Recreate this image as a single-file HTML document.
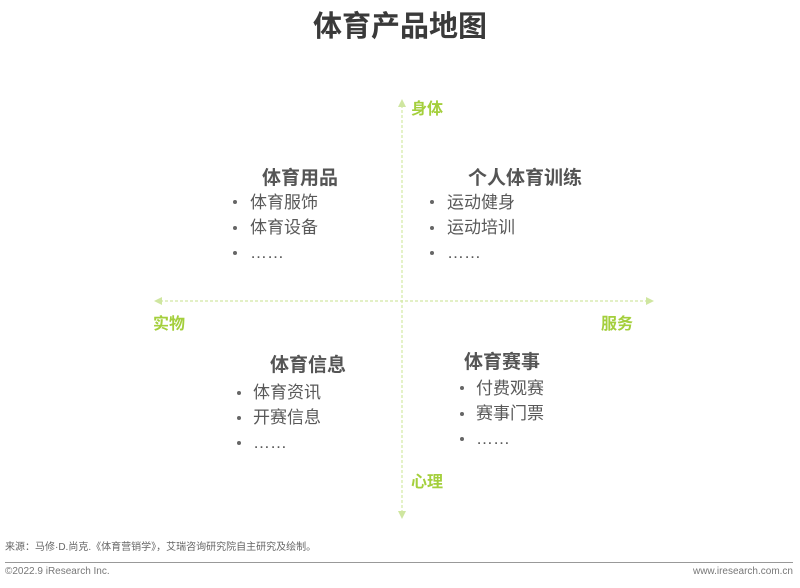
<!DOCTYPE html>
<html><head><meta charset="utf-8"><style>
html,body{margin:0;padding:0;background:#fff;}
body{width:800px;height:588px;position:relative;overflow:hidden;font-family:"Liberation Sans","Noto Sans CJK SC",sans-serif;}
.a{position:absolute;white-space:nowrap;line-height:1;}
.t{font-size:29px;font-weight:bold;color:#3a3a3a;}
.h{font-size:19px;font-weight:bold;color:#555;}
.i{font-size:17px;color:#595959;}
.g{font-size:16px;font-weight:bold;color:#a4cf3c;}
.b{position:absolute;width:4px;height:4px;border-radius:50%;background:#666;}
</style></head><body>
<div class="a t" style="left:313px;top:13px;">体育产品地图</div>
<svg width="800" height="588" style="position:absolute;left:0;top:0">
<line x1="402" y1="105" x2="402" y2="512" stroke="#d2e8a4" stroke-width="1.2" stroke-dasharray="3,2"/>
<line x1="160" y1="301" x2="648" y2="301" stroke="#d2e8a4" stroke-width="1.2" stroke-dasharray="3,2"/>
<polygon points="402,99 398,107 406,107" fill="#cfe6a0"/>
<polygon points="402,519 398,511 406,511" fill="#cfe6a0"/>
<polygon points="154,301 162,297 162,305" fill="#cfe6a0"/>
<polygon points="654,301 646,297 646,305" fill="#cfe6a0"/>
</svg>
<div class="a g" style="left:411px;top:102px;">身体</div>
<div class="a g" style="left:153px;top:317px;">实物</div>
<div class="a g" style="left:601px;top:317px;">服务</div>
<div class="a g" style="left:411px;top:475px;">心理</div>

<div class="a h" style="left:262px;top:169px;">体育用品</div>
<div class="b" style="left:233px;top:200px"></div><div class="a i" style="left:250px;top:194px;">体育服饰</div>
<div class="b" style="left:233px;top:226px"></div><div class="a i" style="left:250px;top:219px;">体育设备</div>
<div class="b" style="left:233px;top:251px"></div><div class="a i" style="left:250px;top:244px;">……</div>

<div class="a h" style="left:468px;top:169px;">个人体育训练</div>
<div class="b" style="left:430px;top:200px"></div><div class="a i" style="left:447px;top:194px;">运动健身</div>
<div class="b" style="left:430px;top:226px"></div><div class="a i" style="left:447px;top:219px;">运动培训</div>
<div class="b" style="left:430px;top:251px"></div><div class="a i" style="left:447px;top:244px;">……</div>

<div class="a h" style="left:270px;top:356px;">体育信息</div>
<div class="b" style="left:237px;top:391px"></div><div class="a i" style="left:253px;top:384px;">体育资讯</div>
<div class="b" style="left:237px;top:416px"></div><div class="a i" style="left:253px;top:409px;">开赛信息</div>
<div class="b" style="left:237px;top:441px"></div><div class="a i" style="left:253px;top:434px;">……</div>

<div class="a h" style="left:464px;top:353px;">体育赛事</div>
<div class="b" style="left:460px;top:386px"></div><div class="a i" style="left:476px;top:380px;">付费观赛</div>
<div class="b" style="left:460px;top:412px"></div><div class="a i" style="left:476px;top:405px;">赛事门票</div>
<div class="b" style="left:460px;top:437px"></div><div class="a i" style="left:476px;top:430px;">……</div>

<div class="a" style="left:5px;top:543px;font-size:10px;color:#666;">来源：马修·D.尚克.《体育营销学》，艾瑞咨询研究院自主研究及绘制。</div>
<div style="position:absolute;left:5px;top:562px;width:788px;height:1px;background:#999;"></div>
<div class="a" style="left:5px;top:567px;font-size:10px;color:#777;">©2022.9 iResearch Inc.</div>
<div class="a" style="right:7px;top:567px;font-size:10px;color:#777;">www.iresearch.com.cn</div>
</body></html>
